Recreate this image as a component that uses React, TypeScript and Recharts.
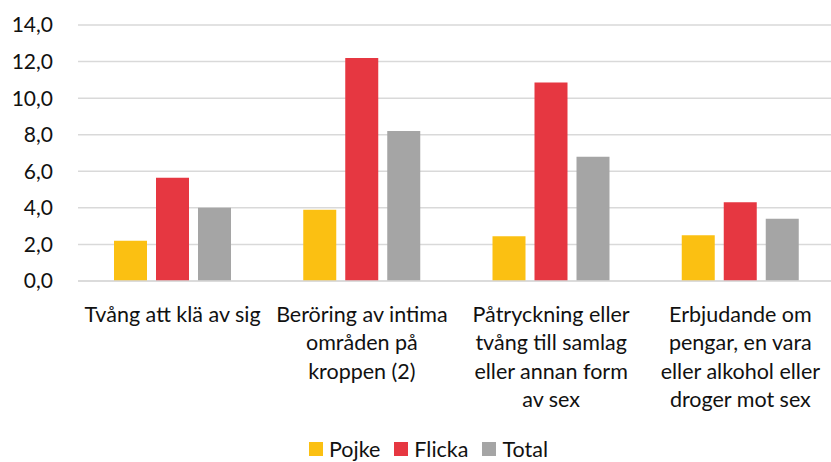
import React from 'react';
import { BarChart, Bar, XAxis, YAxis, CartesianGrid, Legend } from 'recharts';

// kategorier (radbrytningar som i originalet)
const categories = [
  'Tvång att klä av sig',
  'Beröring av intima\nområden på\nkroppen (2)',
  'Påtryckning eller\ntvång till samlag\neller annan form\nav sex',
  'Erbjudande om\npengar, en vara\neller alkohol eller\ndroger mot sex',
];
const pojke = [2.2, 3.9, 2.45, 2.5];
const flicka = [5.65, 12.2, 10.85, 4.3];
const total = [4.0, 8.2, 6.8, 3.4];
const yTicks = [0, 2, 4, 6, 8, 10, 12, 14];

const series = [
  { key: 'pojke', name: 'Pojke', color: '#FBC012' },
  { key: 'flicka', name: 'Flicka', color: '#E63741' },
  { key: 'total', name: 'Total', color: '#A5A5A5' },
];

const data = categories.map((c, i) => ({
  category: c,
  pojke: pojke[i],
  flicka: flicka[i],
  total: total[i],
}));

const FONT = 'Lato, "Liberation Sans", sans-serif';

const CategoryTick = (props: any) => {
  const { x, y, payload } = props;
  const lines = String(payload.value).split('\n');
  return (
    <text x={x} y={y} textAnchor="middle" fontFamily={FONT} fontSize={21.5} fill="#111">
      {lines.map((line, i) => (
        <tspan key={i} x={x} dy={i === 0 ? 39 : 28.3}>
          {line}
        </tspan>
      ))}
    </text>
  );
};

const LegendContent = () => (
  <div
    style={{
      paddingTop: 20,
      display: 'flex',
      justifyContent: 'center',
      paddingLeft: 40,
      fontFamily: FONT,
      fontSize: 21.5,
      lineHeight: '22px',
      color: '#111',
    }}
  >
    {series.map((s) => (
      <div key={s.key} style={{ display: 'flex', alignItems: 'center', marginRight: 14 }}>
        <span style={{ width: 14, height: 14, background: s.color, marginRight: 6, display: 'inline-block' }} />
        <span>{s.name}</span>
      </div>
    ))}
  </div>
);

export default function App() {
  return (
    <div style={{ position: 'absolute', left: 0, top: 0, width: 831, height: 462, background: '#fff' }}>
      <BarChart
        width={831}
        height={462}
        data={data}
        margin={{ top: 25, right: -4, bottom: 0, left: 0 }}
        barGap={9}
        barSize={33}
      >
        <CartesianGrid vertical={false} stroke="#D9D9D9" strokeWidth={1.5} />
        <XAxis
          dataKey="category"
          height={137}
          interval={0}
          tickLine={false}
          tickSize={0}
          axisLine={{ stroke: '#D9D9D9', strokeWidth: 1.5 }}
          tick={<CategoryTick />}
        />
        <YAxis
          width={78}
          domain={[0, 14]}
          ticks={yTicks}
          interval={0}
          axisLine={false}
          tickLine={false}
          tickSize={0}
          tickMargin={25}
          tickFormatter={(v: number) => v.toFixed(1).replace('.', ',')}
          tick={{ fontFamily: FONT, fontSize: 21, fill: '#111' }}
        />
        <Legend
          verticalAlign="bottom"
          align="center"
          wrapperStyle={{ width: 831, left: 0, height: 44 }}
          content={<LegendContent />}
        />
        {series.map((s) => (
          <Bar key={s.key} dataKey={s.key} name={s.name} fill={s.color} isAnimationActive={false} />
        ))}
      </BarChart>
    </div>
  );
}
